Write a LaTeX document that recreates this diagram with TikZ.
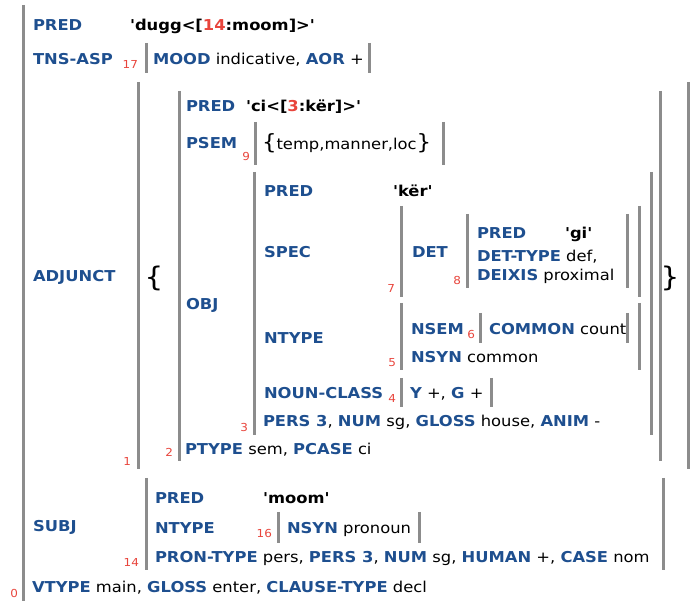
\documentclass[tikz,border=0pt]{standalone}
\usepackage{fontspec}
\setmainfont{DejaVu Sans}[FakeStretch=1.09]
\newfontfamily\fsplain{DejaVu Sans}[FakeStretch=1.09]
\definecolor{attrblue}{HTML}{1E4F8F}
\definecolor{idxred}{HTML}{E8453C}
\definecolor{bargray}{HTML}{8C8C8C}
\newcommand{\fsA}[1]{{\bfseries\color{attrblue}#1}}
\newcommand{\fsV}[1]{{\bfseries #1}}
\newcommand{\fsR}[1]{{\color{idxred}#1}}
\newcommand{\fsfont}{\fsplain\fontsize{15}{18}\selectfont}
\newcommand{\fsidx}{\fsplain\fontsize{11}{13}\selectfont}
\tikzset{
  txt/.style={anchor=base west, inner sep=0pt, outer sep=0pt, font=\fsfont},
  ix/.style={anchor=base east, inner sep=0pt, outer sep=0pt, text=idxred, font=\fsidx},
  bar/.style={line width=3pt, draw=bargray},
  brace/.style={anchor=center, inner sep=0pt, font=\fsplain\fontsize{27}{30}\selectfont}
}
\begin{document}
\begin{tikzpicture}[x=1pt,y=-1pt]
\useasboundingbox (0,0) rectangle (697,601);
% bars
\draw[bar] (23,5) -- (23,601);
\draw[bar] (146,43) -- (146,73);  \draw[bar] (369,43) -- (369,73);
\draw[bar] (138,82) -- (138,469); \draw[bar] (688,82) -- (688,469);
\draw[bar] (179,91) -- (179,461); \draw[bar] (660,91) -- (660,461);
\draw[bar] (255,122) -- (255,165); \draw[bar] (443,122) -- (443,165);
\draw[bar] (254,172) -- (254,435); \draw[bar] (651,172) -- (651,435);
\draw[bar] (401,206) -- (401,297); \draw[bar] (639,206) -- (639,297);
\draw[bar] (467,214) -- (467,288); \draw[bar] (627,214) -- (627,288);
\draw[bar] (401,303) -- (401,370); \draw[bar] (639,303) -- (639,370);
\draw[bar] (480,313) -- (480,343); \draw[bar] (627,313) -- (627,343);
\draw[bar] (401,378) -- (401,407); \draw[bar] (491,378) -- (491,407);
\draw[bar] (146,478) -- (146,570); \draw[bar] (663,478) -- (663,570);
\draw[bar] (278,512) -- (278,543); \draw[bar] (419,512) -- (419,543);
% outer
\node[txt] (p0) at (33,30.5) {\fsA{PRED}};
\node[txt] (p0v) at (130,30.5) {\fsV{'dugg<[\fsR{14}:moom]>'}};
\node[txt] (tns) at (33,65) {\fsA{TNS-ASP}};
\node[ix] (i17) at (138,69) {17};
\node[txt] (mood) at (153,65) {\fsA{MOOD} indicative, \fsA{AOR} +};
\node[txt] (adj) at (33,282) {\fsA{ADJUNCT}};
\node[ix] (i1) at (131,466) {1};
\node[brace] (lb) at (154,278) {\{};
\node[brace] (rb) at (670,278) {\}};
% adjunct element
\node[ix] (i2) at (173,457) {2};
\node[txt] (p2) at (186,112) {\fsA{PRED}};
\node[txt] (p2v) at (246,112) {\fsV{'ci<[\fsR{3}:kër]>'}};
\node[txt] (psem) at (186,149) {\fsA{PSEM}};
\node[ix] (i9) at (250,161) {9};
\node[txt] (psemv) at (262,150) {{\fontsize{21}{21}\selectfont\{}temp,manner,loc{\fontsize{21}{21}\selectfont\}}};
\node[txt] (obj) at (186,310) {\fsA{OBJ}};
\node[txt] (ptype) at (185,455) {\fsA{PTYPE} sem, \fsA{PCASE} ci};
% obj
\node[ix] (i3) at (248,432) {3};
\node[txt] (p3) at (264,197) {\fsA{PRED}};
\node[txt] (p3v) at (393,197) {\fsV{'kër'}};
\node[txt] (spec) at (264,258) {\fsA{SPEC}};
\node[ix] (i7) at (395,293) {7};
\node[txt] (det) at (412,258) {\fsA{DET}};
\node[ix] (i8) at (461,285) {8};
\node[txt] (p8) at (477,239) {\fsA{PRED}};
\node[txt] (p8v) at (565,239) {\fsV{'gi'}};
\node[txt] (dtype) at (477,262) {\fsA{DET-TYPE} def,};
\node[txt] (deix) at (477,281) {\fsA{DEIXIS} proximal};
\node[txt] (ntype) at (264,344) {\fsA{NTYPE}};
\node[ix] (i5) at (396,367) {5};
\node[txt] (nsem) at (411,335) {\fsA{NSEM}};
\node[ix] (i6) at (475,339) {6};
\node[txt] (common) at (489,335) {\fsA{COMMON} count};
\node[txt] (nsyn) at (411,363) {\fsA{NSYN} common};
\node[txt] (ncl) at (264,399) {\fsA{NOUN-CLASS}};
\node[ix] (i4) at (396,403) {4};
\node[txt] (nclv) at (410,399) {\fsA{Y} +, \fsA{G} +};
\node[txt] (pers) at (263,427) {\fsA{PERS 3}, \fsA{NUM} sg, \fsA{GLOSS} house, \fsA{ANIM} -};
% subj
\node[txt] (subj) at (33,532) {\fsA{SUBJ}};
\node[ix] (i14) at (139,567) {14};
\node[txt] (p14) at (155,504) {\fsA{PRED}};
\node[txt] (p14v) at (263,504) {\fsV{'moom'}};
\node[txt] (nt14) at (155,534) {\fsA{NTYPE}};
\node[ix] (i16) at (272,538) {16};
\node[txt] (nsyn14) at (287,534) {\fsA{NSYN} pronoun};
\node[txt] (pron) at (155,563) {\fsA{PRON-TYPE} pers, \fsA{PERS 3}, \fsA{NUM} sg, \fsA{HUMAN} +, \fsA{CASE} nom};
\node[ix] (i0) at (18,598) {0};
\node[txt] (vtype) at (32,593) {\fsA{VTYPE} main, \fsA{GLOSS} enter, \fsA{CLAUSE-TYPE} decl};
\end{tikzpicture}
\end{document}
